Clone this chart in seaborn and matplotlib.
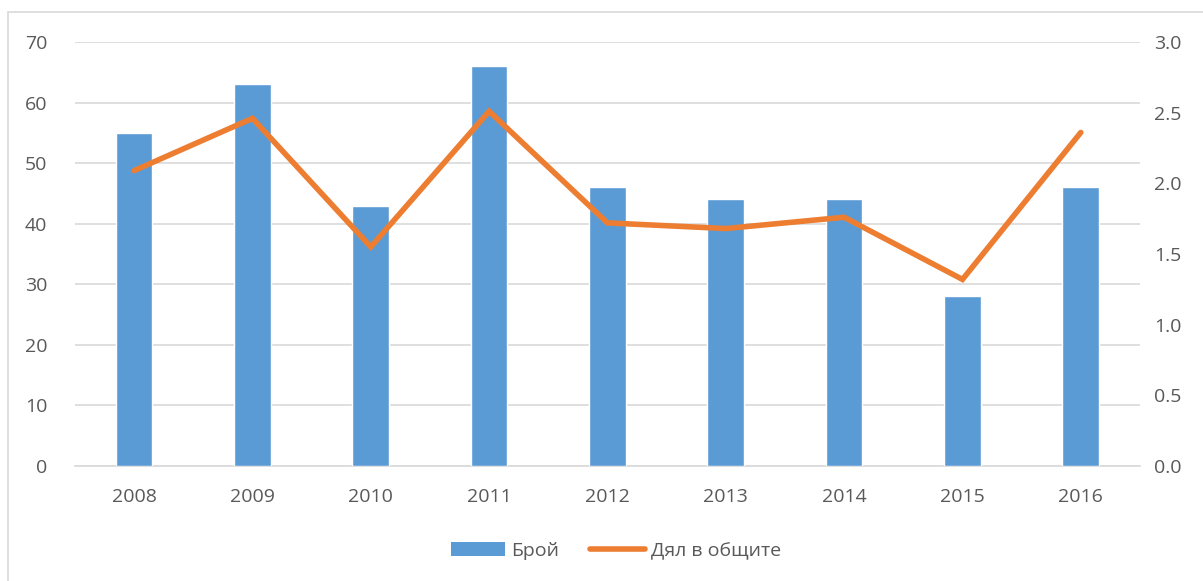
import pandas as pd
import matplotlib
matplotlib.use("Agg")
import matplotlib.pyplot as plt
import seaborn as sns
from matplotlib.patches import Rectangle
from matplotlib.lines import Line2D
from matplotlib.patches import Patch

# data
years = ['2008', '2009', '2010', '2011', '2012', '2013', '2014', '2015', '2016']
count = [55, 63, 43, 66, 46, 44, 44, 28, 46]
share = [2.09, 2.46, 1.55, 2.51, 1.72, 1.68, 1.76, 1.32, 2.36]

df = pd.DataFrame({'year': years, 'count': count, 'share': share})

blue = '#5b9bd5'
orange = '#ed7d31'
grey_txt = '#595959'

sns.set_theme(style='white')
plt.rcParams['font.family'] = ['Open Sans', 'DejaVu Sans']

fig = plt.figure(figsize=(12.03, 5.81), dpi=100)
ax = fig.add_axes([0.0623, 0.198, 0.8853, 0.7297])

# outer chart border
fig.patches.append(Rectangle((8 / 1203, -0.05), 1.2, 1 - 12 / 581 + 0.05,
                             transform=fig.transFigure, fill=False,
                             edgecolor='#d9d9d9', linewidth=1.2))

sns.barplot(data=df, x='year', y='count', color=blue, width=0.31,
            saturation=1, ax=ax, zorder=3)
ax.set_ylim(0, 70)
ax.set_yticks(range(0, 71, 10))
ax.set_xlim(-0.5, len(years) - 0.5)
ax.grid(axis='y', color='#d9d9d9', linewidth=1.2, zorder=0)
ax.set_axisbelow(True)
ax.set_xlabel('')
ax.set_ylabel('')

ax2 = ax.twinx()
sns.lineplot(data=df, x='year', y='share', color=orange, linewidth=4,
             ax=ax2, solid_joinstyle='miter', zorder=4)
ax2.set_ylim(0, 3.0)
ax2.set_yticks([0, 0.5, 1.0, 1.5, 2.0, 2.5, 3.0])
ax2.set_yticklabels([f'{v:.1f}' for v in ax2.get_yticks()])
ax2.set_ylabel('')
ax2.set_xlabel('')
ax2.grid(False)

for a in (ax, ax2):
    for s in a.spines.values():
        s.set_visible(False)
    a.tick_params(length=0, labelsize=14, colors=grey_txt)
ax.spines['bottom'].set_visible(True)
ax.spines['bottom'].set_color('#d9d9d9')
ax.spines['bottom'].set_linewidth(1.2)
ax.tick_params(axis='x', pad=16)
ax.tick_params(axis='y', pad=20)
ax2.tick_params(axis='y', pad=10)

handles = [Patch(facecolor=blue, edgecolor='none'),
           Line2D([0], [0], color=orange, linewidth=4, solid_capstyle='round')]
fig.legend(handles, ['Брой', 'Дял в общите'], loc='center',
           bbox_to_anchor=(0.512, 0.052), ncol=2, frameon=False,
           fontsize=14, labelcolor=grey_txt, handlelength=2.8,
           handleheight=0.75, columnspacing=1.6, handletextpad=0.3)

fig.savefig('out.png', dpi=100)
